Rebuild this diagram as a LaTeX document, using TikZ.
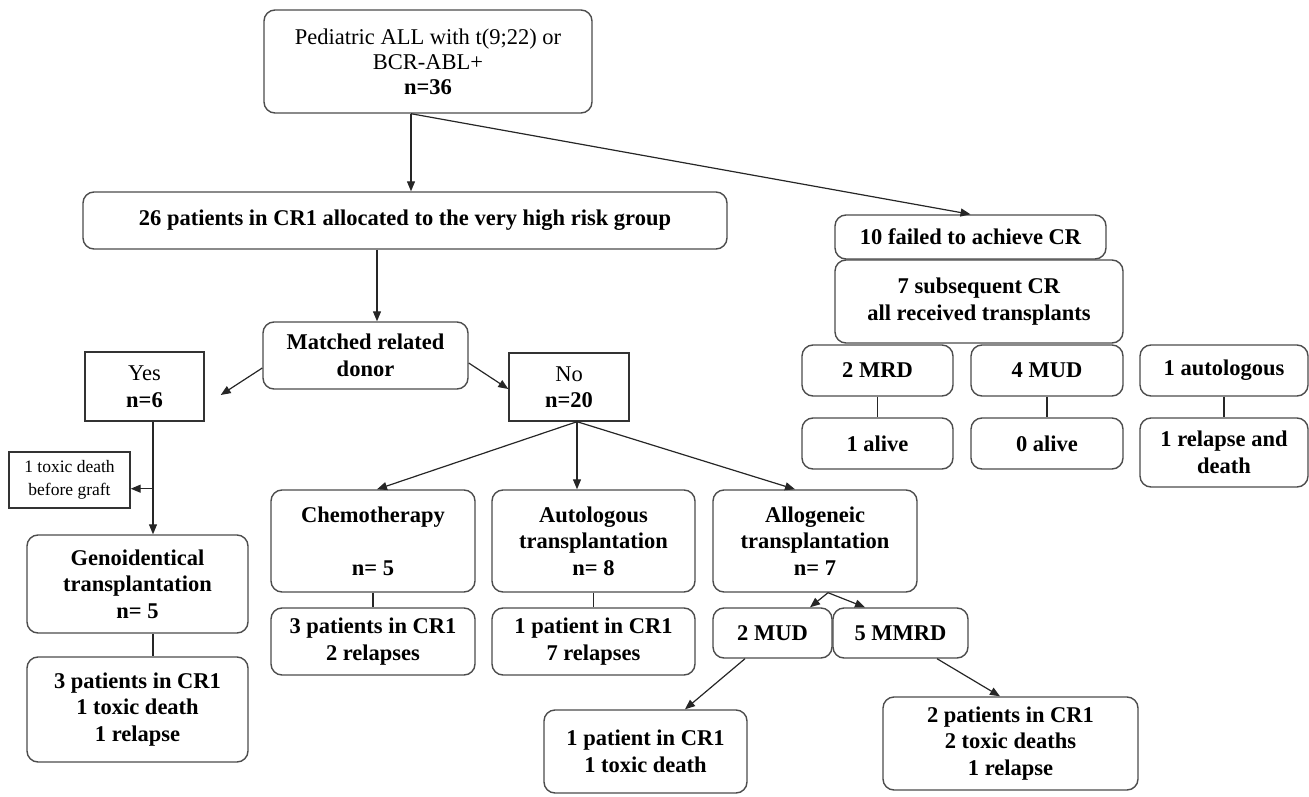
\documentclass[tikz,border=0pt]{standalone}
\usepackage{fontspec}
\setmainfont{Liberation Serif}
\usetikzlibrary{arrows.meta,calc}

\begin{document}
\begin{tikzpicture}[x=1pt,y=-1pt,
    every node/.style={font=\fontsize{22.5}{26.5}\selectfont\bfseries, align=center, inner sep=0pt},
    rbox/.style={draw=black!70, line width=1.4pt, rounded corners=11pt},
    sbox/.style={draw=black!80, line width=1.4pt},
    link/.style={line width=1.2pt, black!85},
    >={Triangle[length=10pt,width=8pt]}]
    \useasboundingbox (0,0) rectangle (1309,797);
    % left branch
    \node[rbox, minimum width=328pt, minimum height=103pt, font=\fontsize{22.5}{25}\selectfont] (top) at (428,61.5) {Pediatric ALL with t(9;22) or\\BCR-ABL+\\\textbf{n=36}};
    \node[rbox, minimum width=644pt, minimum height=57pt] (crone) at (405,220.5) {26 patients in CR1 allocated to the very high risk group};
    \node[rbox, minimum width=205pt, minimum height=67pt] (matched) at (365.5,355.5) {Matched related\\donor};
    \node[sbox, minimum width=119pt, minimum height=69pt, font=\fontsize{22.5}{26.5}\selectfont] (yes) at (144.5,386.5) {Yes\\\textbf{n=6}};
    \node[sbox, minimum width=120pt, minimum height=68pt, font=\fontsize{22.5}{26.5}\selectfont] (no) at (569,387) {No\\\textbf{n=20}};
    \node[sbox, minimum width=121pt, minimum height=56pt, font=\fontsize{17.5}{23}\selectfont] (toxic) at (69.5,480) {1 toxic death\\before graft};
    \node[rbox, minimum width=221pt, minimum height=98pt] (geno) at (137.5,584) {Genoidentical\\transplantation\\n= 5};
    \node[rbox, minimum width=221pt, minimum height=105pt] (genores) at (137.5,709.5) {3 patients in CR1\\1 toxic death\\1 relapse};
    \node[rbox, minimum width=204pt, minimum height=102pt] (chemo) at (373,541) {Chemotherapy\\\mbox{}\\n= 5};
    \node[rbox, minimum width=204pt, minimum height=67pt] (chemores) at (373,641.5) {3 patients in CR1\\2 relapses};
    \node[rbox, minimum width=203pt, minimum height=102pt] (auto) at (593.5,541) {Autologous\\transplantation\\n= 8};
    \node[rbox, minimum width=203pt, minimum height=67pt] (autores) at (593.5,641.5) {1 patient in CR1\\7 relapses};
    \node[rbox, minimum width=204pt, minimum height=102pt] (allo) at (815,541) {Allogeneic\\transplantation\\n= 7};
    \node[rbox, minimum width=119pt, minimum height=50pt] (mud) at (772.5,633) {2 MUD};
    \node[rbox, minimum width=135pt, minimum height=50pt] (mmrd) at (900.5,633) {5 MMRD};
    \node[rbox, minimum width=203pt, minimum height=83pt] (mudres) at (645.5,751.5) {1 patient in CR1\\1 toxic death};
    \node[rbox, minimum width=255pt, minimum height=93pt] (mmrdres) at (1010.5,743.5) {2 patients in CR1\\2 toxic deaths\\1 relapse};
    % right branch
    \node[rbox, minimum width=271pt, minimum height=44pt] (failed) at (970.5,237) {10 failed to achieve CR};
    \node[rbox, minimum width=288pt, minimum height=83pt] (subseq) at (979,301.5) {7 subsequent CR\\all received transplants};
    \node[rbox, minimum width=151pt, minimum height=51pt] (mrd) at (877.5,370.5) {2 MRD};
    \node[rbox, minimum width=152pt, minimum height=51pt] (mudb) at (1047,370.5) {4 MUD};
    \node[rbox, minimum width=168pt, minimum height=51pt] (autol) at (1224,370.5) {1 autologous};
    \node[rbox, minimum width=151pt, minimum height=51pt] (alivea) at (877.5,443.5) {1 alive};
    \node[rbox, minimum width=152pt, minimum height=51pt] (aliveb) at (1047,443.5) {0 alive};
    \node[rbox, minimum width=168pt, minimum height=69pt] (relapse) at (1224,452.5) {1 relapse and\\death};
    % connectors
    \draw[link,->] ([xshift=-17pt]top.south) -- ([xshift=-17pt]top.south |- crone.north);
    \draw[link,->] ([xshift=-17pt]top.south) -- (failed.north);
    \draw[link,->] ([xshift=-28pt]crone.south) -- ([xshift=-28pt]crone.south |- matched.north);
    \draw[link,->] ([yshift=-12.5pt]matched.west) -- ($(yes.east)+(16,8.5)$);
    \draw[link,->] ([yshift=-7.5pt]matched.east) -- ([yshift=-2pt]no.west);
    \draw[link,->] ([xshift=8.5pt]yes.south) -- ([xshift=8.5pt]yes.south |- geno.north);
    \coordinate (split) at ($(yes.south)+(8.5,67)$);
    \draw[link,->] (split) -- (split -| toxic.east);
    \draw[link] ([xshift=15.5pt]geno.south) -- ([xshift=15.5pt]geno.south |- genores.north);
    \draw[link,->] ([xshift=8pt]no.south) -- ([xshift=4pt]chemo.north);
    \draw[link,->] ([xshift=8pt]no.south) -- ([xshift=8pt]no.south |- auto.north);
    \draw[link,->] ([xshift=8pt]no.south) -- ([xshift=-20pt]allo.north);
    \draw[link] (chemo) -- (chemores);
    \draw[link] (auto) -- (autores);
    \draw[link,->] ([xshift=13pt]allo.south) -- ([xshift=37.5pt]mud.north);
    \draw[link,->] ([xshift=13pt]allo.south) -- ([xshift=-35.5pt]mmrd.north);
    \draw[link,->] ([xshift=-27.5pt]mud.south) -- ([xshift=39.5pt]mudres.north);
    \draw[link,->] ([xshift=36.5pt]mmrd.south) -- ([xshift=-10.5pt]mmrdres.north);
    \draw[link] (mrd) -- (alivea);
    \draw[link] (mudb) -- (aliveb);
    \draw[link] (autol) -- (relapse);
\end{tikzpicture}
\end{document}
